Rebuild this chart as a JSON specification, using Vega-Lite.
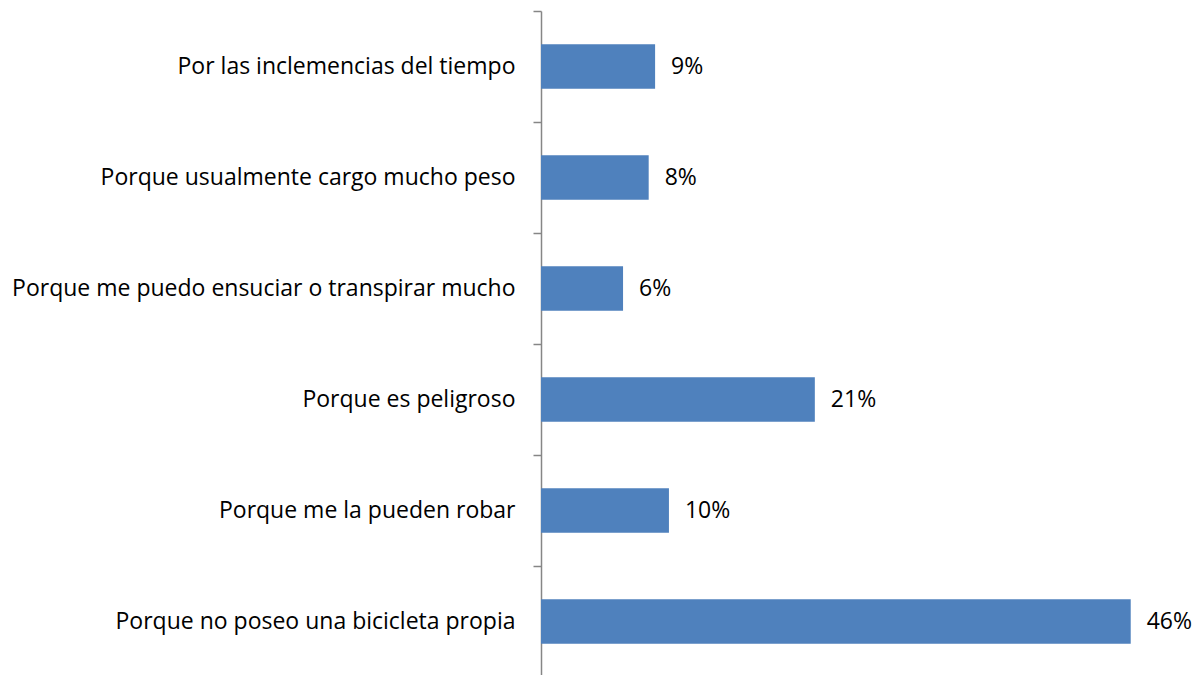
{
  "$schema": "https://vega.github.io/schema/vega-lite/v6.json",
  "autosize": "none",
  "padding": {"left": 541, "top": 11, "right": 13, "bottom": 0},
  "width": 641,
  "height": 666,
  "background": "white",
  "config": {"view": {"stroke": null}, "font": "Open Sans"},
  "data": {"values": [
    {"motivo": "Por las inclemencias del tiempo", "valor": 0.089, "etiqueta": "9%"},
    {"motivo": "Porque usualmente cargo mucho peso", "valor": 0.084, "etiqueta": "8%"},
    {"motivo": "Porque me puedo ensuciar o transpirar mucho", "valor": 0.064, "etiqueta": "6%"},
    {"motivo": "Porque es peligroso", "valor": 0.2136, "etiqueta": "21%"},
    {"motivo": "Porque me la pueden robar", "valor": 0.0998, "etiqueta": "10%"},
    {"motivo": "Porque no poseo una bicicleta propia", "valor": 0.46, "etiqueta": "46%"}
  ]},
  "encoding": {
    "y": {"field": "motivo", "type": "nominal", "sort": null,
      "scale": {"paddingInner": 0, "paddingOuter": 0},
      "axis": {"title": null, "tickBand": "extent", "domainColor": "#868686", "tickColor": "#868686",
        "domainWidth": 1.5, "tickWidth": 1.5,
        "tickSize": 8, "labelPadding": 18, "labelFontSize": 23, "labelColor": "#000000", "labelLimit": 600,
        "labelFont": "Open Sans"}},
    "x": {"field": "valor", "type": "quantitative", "scale": {"domain": [0, 0.5]}, "axis": null}
  },
  "layer": [
    {"mark": {"type": "bar", "color": "#4F81BD", "height": {"band": 0.4}}},
    {"mark": {"type": "text", "align": "left", "dx": 16, "fontSize": 23, "color": "#000000", "font": "Open Sans"},
      "encoding": {"text": {"field": "etiqueta"}}}
  ]
}
